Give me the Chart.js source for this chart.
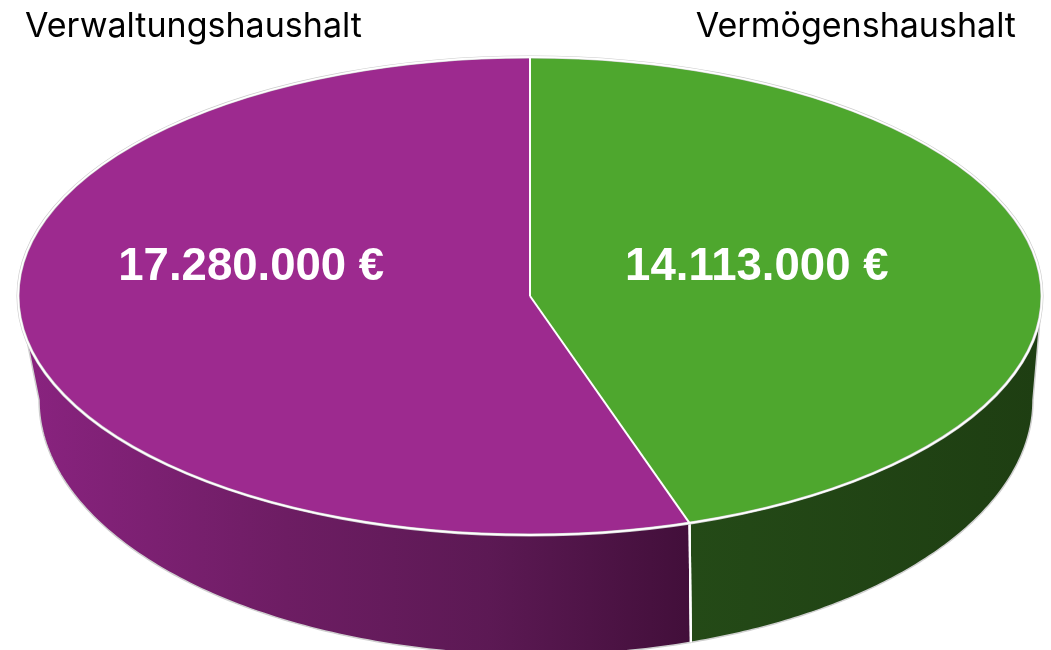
<!DOCTYPE html>
<html>
<head>
<meta charset="utf-8">
<script src="https://cdn.jsdelivr.net/npm/chart.js@4/dist/chart.umd.min.js"></script>
<style>
  html, body { margin: 0; padding: 0; background: #ffffff; }
  #wrap { width: 1051px; height: 650px; }
</style>
</head>
<body>
<div id="wrap"><canvas id="c" width="1051" height="650"></canvas></div>
<script>
// ---- data ----
const categories = ['Verwaltungshaushalt', 'Vermögenshaushalt'];
const values = [17280000, 14113000];
const topColors = ['#9d2a8f', '#4ea72e'];
const wallStops = [
  [[0, '#8a2380'], [0.4, '#6d1d63'], [0.7, '#5c1954'], [1, '#420f3a']],
  [[0, '#244a17'], [1, '#1e3e12']]
];

// ---- projection styling (3D look) ----
const TOP = { cx: 530, cy: 296, rx: 512, ry: 239 };
const BOT = { cx: 536, cy: 400, rx: 497, ry: 255 };

function fmt(v) {
  return String(v).replace(/\B(?=(\d{3})+(?!\d))/g, '.') + ' €';
}
const total = values.reduce((a, b) => a + b, 0);

function applyTopTransform(ctx, arc) {
  const p = arc.getProps(['x', 'y', 'outerRadius'], true);
  ctx.translate(TOP.cx, TOP.cy);
  ctx.scale(TOP.rx / p.outerRadius, TOP.ry / p.outerRadius);
  ctx.translate(-p.x, -p.y);
}
function pt(E, a) { return [E.cx + E.rx * Math.cos(a), E.cy + E.ry * Math.sin(a)]; }

function visibleFront(s, e) {
  const out = [];
  for (let k = -2; k <= 3; k++) {
    const lo = Math.max(s, 2 * Math.PI * k), hi = Math.min(e, 2 * Math.PI * k + Math.PI);
    if (hi > lo + 1e-6) out.push([lo, hi]);
  }
  return out;
}

const pie3d = {
  id: 'pie3d',
  beforeDatasetsDraw(chart) {
    const ctx = chart.ctx;
    const meta = chart.getDatasetMeta(0);
    const seams = [];
    meta.data.forEach((arc, i) => {
      const p = arc.getProps(['startAngle', 'endAngle'], true);
      visibleFront(p.startAngle, p.endAngle).forEach(([a1, a2]) => {
        const N = 120;
        ctx.beginPath();
        for (let j = 0; j <= N; j++) {
          const a = a1 + (a2 - a1) * j / N;
          const q = pt(TOP, a);
          j === 0 ? ctx.moveTo(q[0], q[1]) : ctx.lineTo(q[0], q[1]);
        }
        for (let j = N; j >= 0; j--) {
          const a = a1 + (a2 - a1) * j / N;
          const q = pt(BOT, a);
          ctx.lineTo(q[0], q[1]);
        }
        ctx.closePath();
        const g = ctx.createLinearGradient(Math.min(pt(TOP, a1)[0], pt(TOP, a2)[0]), 0,
                                           Math.max(pt(TOP, a1)[0], pt(TOP, a2)[0]), 0);
        wallStops[i].forEach(s => g.addColorStop(s[0], s[1]));
        ctx.fillStyle = g;
        ctx.fill();
        ctx.strokeStyle = '#cfcfcf';
        ctx.lineWidth = 1.5;
        ctx.stroke();
        [a1, a2].forEach(a => {
          const m = ((a % (2 * Math.PI)) + 2 * Math.PI) % (2 * Math.PI);
          if (m > 0.01 && m < Math.PI - 0.01) seams.push(a);
        });
      });
    });
    seams.forEach(a => {
      const t = pt(TOP, a), b = pt(BOT, a);
      ctx.beginPath(); ctx.moveTo(t[0], t[1]); ctx.lineTo(b[0], b[1]);
      ctx.strokeStyle = '#ffffff'; ctx.lineWidth = 2.2; ctx.stroke();
    });
    ctx.save();
    applyTopTransform(ctx, meta.data[0]);
  },
  afterDatasetsDraw(chart) {
    const ctx = chart.ctx;
    ctx.restore();
    const meta = chart.getDatasetMeta(0);
    // outer rim
    const a0 = meta.data[0].getProps(['x', 'y', 'outerRadius'], true);
    ctx.save(); applyTopTransform(ctx, meta.data[0]);
    ctx.beginPath(); ctx.arc(a0.x, a0.y, a0.outerRadius, 0, Math.PI * 2);
    ctx.restore();
    ctx.strokeStyle = '#cccccc'; ctx.lineWidth = 3; ctx.stroke();
    ctx.strokeStyle = '#ffffff'; ctx.lineWidth = 1.8; ctx.stroke();
    // radial separators
    meta.data.forEach(arc => {
      const p = arc.getProps(['x', 'y', 'outerRadius', 'startAngle'], true);
      ctx.save(); applyTopTransform(ctx, arc);
      ctx.beginPath(); ctx.moveTo(p.x, p.y);
      ctx.lineTo(p.x + p.outerRadius * Math.cos(p.startAngle), p.y + p.outerRadius * Math.sin(p.startAngle));
      ctx.restore();
      ctx.strokeStyle = '#ffffff'; ctx.lineWidth = 2; ctx.stroke();
    });
    // value labels
    ctx.fillStyle = '#ffffff';
    ctx.textAlign = 'center';
    ctx.textBaseline = 'alphabetic';
    ctx.font = 'bold 40px "Liberation Sans", Arial, sans-serif';
    const w0 = ctx.measureText(fmt(values[0])).width;
    const vs = 40 * 266 / w0;
    ctx.font = 'bold ' + vs.toFixed(2) + 'px "Liberation Sans", Arial, sans-serif';
    meta.data.forEach((arc, i) => {
      const p = arc.getProps(['startAngle', 'endAngle'], true);
      const mid = (p.startAngle + p.endAngle) / 2;
      const x = TOP.cx + 0.5 * TOP.rx * Math.cos(mid) - 26;
      const y = TOP.cy - 16;
      ctx.fillText(fmt(values[i]), x, y);
    });
    // category labels
    ctx.fillStyle = '#000000';
    ctx.font = '30px Inter, "Noto Sans", sans-serif';
    const cw = ctx.measureText(categories[0]).width;
    const cs = 30 * 337 / cw;
    ctx.font = cs.toFixed(2) + 'px Inter, "Noto Sans", sans-serif';
    ctx.textAlign = 'left';
    ctx.fillText(categories[0], 25, 37);
    ctx.textAlign = 'right';
    ctx.fillText(categories[1], 1016, 37);
  }
};

new Chart(document.getElementById('c'), {
  type: 'pie',
  data: {
    labels: categories,
    datasets: [{
      data: values,
      backgroundColor: topColors,
      borderWidth: 0,
      hoverOffset: 0,
      clip: false
    }]
  },
  options: {
    responsive: false,
    animation: false,
    events: [],
    rotation: 360 * values[1] / total,
    layout: { padding: 0 },
    plugins: { legend: { display: false }, tooltip: { enabled: false }, title: { display: false } }
  },
  plugins: [pie3d]
});
</script>
</body>
</html>
